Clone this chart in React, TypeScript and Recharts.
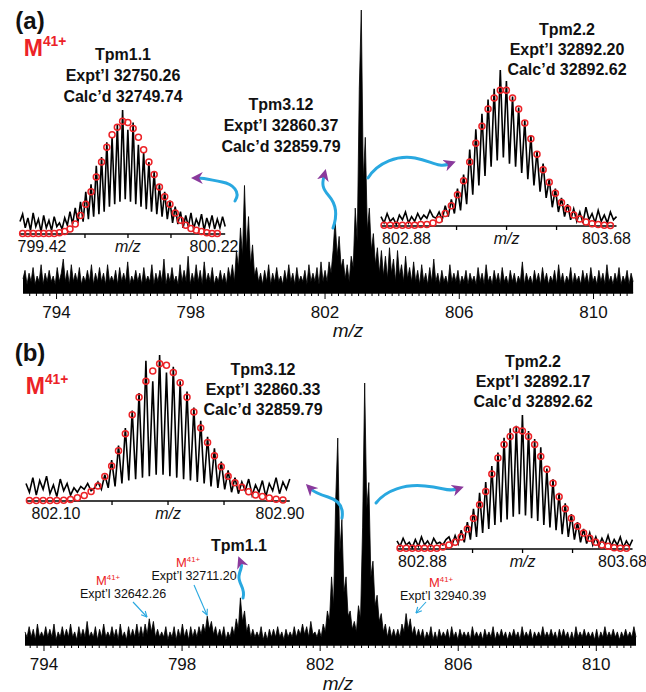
import React from "react";
import { Area, AreaChart, ComposedChart, Line, Scatter, XAxis, YAxis } from "recharts";

const FONT = '"Liberation Sans", Arial, Helvetica, sans-serif';
const BLUE = "#29A8E0";
const PURPLE = "#8A3A9C";
const RED = "#EC2227";

// isotope spacing of a 41+ ion
const ISO_STEP = 1.00335 / 41;

const majorTicks = [794, 798, 802, 806, 810];
const minorTicks: number[] = [];
for (let k = 3966; k <= 4056; k++) minorTicks.push(k / 5);

// (a) full scan, one value every 0.06 m/z
const scanAStart = 793.0;
const scanAStep = 0.06;
const scanA = [
  5, 8, 3, 7, 4, 9, 3, 6, 4, 10, 3, 7, 4, 8, 4, 6, 3, 9, 4, 7,
  12, 4, 8, 3, 10, 4, 7, 4, 9, 3, 6, 4, 8, 4, 10, 3, 7, 4, 9, 4,
  7, 3, 10, 4, 6, 4, 8, 3, 9, 4, 7, 4, 11, 3, 6, 4, 8, 4, 7, 3,
  9, 4, 6, 4, 10, 3, 7, 4, 8, 4, 12, 3, 7, 4, 9, 4, 6, 3, 10, 4,
  8, 4, 13, 3, 7, 4, 10, 4, 8, 3, 11, 4, 7, 4, 9, 3, 6, 4, 8, 4,
  7, 3, 9, 5, 10, 4, 15, 9, 23, 13, 38, 15, 27, 10, 17, 6, 9, 4, 7, 3,
  8, 4, 10, 3, 7, 4, 9, 4, 6, 3, 8, 4, 10, 4, 7, 3, 9, 4, 6, 4,
  8, 3, 10, 4, 7, 4, 9, 3, 11, 4, 8, 4, 11, 7, 15, 26, 13, 20, 9, 12,
  5, 10, 4, 13, 9, 30, 18, 72, 100, 40, 55, 22, 30, 15, 21, 10, 16, 7, 15, 6,
  13, 5, 16, 7, 12, 4, 15, 6, 10, 4, 13, 5, 9, 4, 11, 4, 8, 3, 10, 4,
  7, 3, 9, 4, 12, 4, 7, 3, 8, 4, 6, 3, 10, 4, 7, 4, 8, 3, 6, 4,
  8, 3, 7, 4, 6, 3, 9, 4, 7, 3, 10, 4, 6, 3, 8, 4, 7, 3, 9, 4,
  6, 3, 8, 4, 7, 3, 6, 4, 11, 3, 7, 4, 6, 3, 8, 4, 7, 3, 9, 4,
  7, 3, 6, 4, 8, 3, 10, 4, 7, 3, 6, 4, 9, 3, 7, 4, 6, 3, 8, 4,
  7, 3, 9, 4, 6, 3, 8, 4, 7, 3, 10, 4, 6, 3, 7, 4, 9, 3, 6, 4,
  8, 3, 7, 4,
];

// (b) full scan
const scanBStart = 793.45;
const scanBStep = 0.06;
const scanB = [
  5, 3, 7, 3, 6, 2, 8, 3, 5, 3, 7, 3, 6, 3, 8, 2, 5, 3, 7, 3,
  6, 3, 8, 3, 5, 2, 7, 3, 6, 3, 9, 3, 5, 3, 7, 2, 6, 3, 8, 3,
  5, 3, 7, 3, 6, 2, 8, 3, 5, 2, 7, 3, 6, 3, 8, 3, 7, 3, 8, 4,
  10, 5, 9, 3, 6, 3, 5, 3, 7, 2, 5, 3, 7, 2, 6, 3, 8, 3, 6, 2,
  7, 3, 6, 3, 7, 4, 8, 5, 11, 6, 9, 4, 7, 3, 6, 3, 7, 2, 5, 3,
  7, 4, 10, 6, 18, 9, 13, 5, 8, 3, 6, 3, 5, 3, 7, 2, 5, 2, 6, 3,
  6, 3, 7, 3, 5, 2, 6, 3, 5, 3, 7, 3, 6, 4, 8, 4, 7, 3, 9, 4,
  5, 3, 6, 3, 8, 5, 13, 9, 26, 15, 55, 79, 35, 48, 20, 26, 11, 13, 6, 9,
  5, 15, 10, 45, 100, 52, 62, 26, 32, 15, 19, 9, 12, 5, 8, 3, 7, 3, 6, 3,
  6, 3, 8, 5, 12, 6, 10, 4, 7, 3, 6, 3, 6, 2, 5, 3, 7, 2, 5, 2,
  6, 3, 5, 3, 6, 2, 7, 3, 5, 2, 6, 3, 5, 3, 5, 2, 7, 3, 5, 3,
  5, 2, 6, 3, 5, 3, 7, 2, 5, 3, 6, 3, 5, 2, 5, 3, 6, 3, 5, 2,
  7, 3, 5, 3, 6, 2, 5, 3, 5, 3, 7, 3, 5, 3, 6, 3, 5, 2, 6, 3,
  6, 3, 5, 2, 5, 2, 7, 3, 5, 3, 6, 3, 5, 3, 5, 2, 6, 2, 5, 3,
  7, 3, 5, 3, 6, 3, 5, 2, 5, 3, 6, 3, 5, 3, 7, 3,
];

// insets: experimental profile sampled at half isotope spacing, calculated isotopes
const tpm11Ticks = [799.42, 799.62, 799.82, 800.02, 800.22];
const tpm11CalcStart = 799.33;
const tpm11Calc = [0.5, 0.5, 0.5, 0.5, 0.5, 0.5, 0.5, 1, 2, 4, 8, 15, 24, 34, 46, 58, 70, 80, 86, 91, 90, 85, 78, 68, 58, 48, 38, 30, 24, 17, 11, 7, 4.5, 3, 2, 1, 0.5, 0.5];
const tpm11Expt = [
  10, 16, 5, 13, 3, 17, 6, 12, 2, 15, 5, 11, 3, 14, 6, 9, 4, 13, 7, 18,
  8, 21, 9, 26, 10, 34, 12, 40, 14, 55, 16, 62, 18, 74, 22, 78, 24, 88, 26, 100,
  28, 84, 26, 90, 24, 72, 22, 66, 20, 58, 18, 50, 16, 40, 14, 34, 12, 27, 9, 22,
  8, 18, 5, 15, 6, 17, 4, 12, 7, 16, 3, 13, 6, 15, 4, 12, 5, 14, 6,
];

const tpm22ATicks = [802.88, 803.08, 803.28, 803.48, 803.68];
const tpm22ACalcStart = 802.79;
const tpm22ACalc = [0.5, 0.5, 0.5, 0.5, 0.5, 0.5, 1, 1, 2, 4, 8, 13, 20, 29, 41, 53, 64, 75, 82, 87, 87, 82, 75, 66, 56, 46, 36, 28, 21, 15, 11, 7, 4.5, 2.5, 1.5, 1, 0.5, 0.3];
const tpm22AExpt = [
  6, 2, 8, 3, 5, 1, 7, 4, 9, 2, 6, 3, 8, 4, 7, 5, 10, 6,
  5, 9, 4, 13, 6, 17, 8, 24, 10, 33, 14, 49, 20, 62, 26, 72, 32, 81, 38, 88,
  42, 100, 44, 93, 40, 83, 38, 76, 34, 68, 30, 58, 26, 48, 22, 40, 18, 30, 12, 24,
  9, 18, 6, 14, 4, 11, 3, 9, 2, 12, 4, 8, 2, 10, 3, 7, 2, 9, 4, 6,
];

const tpm312BTicks = [802.1, 802.3, 802.5, 802.7, 802.9];
const tpm312BCalcStart = 802.005;
const tpm312BCalc = [0.3, 0.3, 0.3, 0.3, 0.4, 0.5, 1.1, 2.3, 3.7, 6.5, 10.3, 16.7, 24, 34.5, 46, 59, 71, 82, 89, 94, 93, 88, 81, 71, 61, 50, 40, 31, 23.5, 17, 12.5, 9.4, 6.4, 4.1, 3, 2, 1.2, 0.6];
const tpm312BExpt = [
  12, 6, 16, 4, 14, 8, 17, 5, 11, 3, 15, 7, 12, 4, 9, 6, 10, 8, 12, 7, 9, 13,
  8, 18, 9, 28, 10, 38, 12, 50, 14, 62, 15, 74, 16, 96, 17, 82, 18, 100, 18, 88,
  17, 92, 16, 82, 15, 75, 14, 64, 13, 55, 12, 44, 10, 36, 9, 27, 8, 21, 6, 16,
  5, 13, 7, 15, 4, 11, 6, 14, 3, 12, 7, 16, 5, 13, 8, 15,
];

const tpm22BTicks = [802.88, 803.08, 803.28, 803.48, 803.68];
const tpm22BCalcStart = 802.79;
const tpm22BCalc = [0.5, 0.5, 0.5, 0.5, 0.5, 0.5, 0.5, 1.5, 3, 5, 9, 15, 23, 33, 43, 56, 68, 78, 84, 89, 88, 84, 78, 69, 59.5, 49, 39, 30, 23, 17, 12, 8, 5, 3, 2, 1, 0.5, 0.5];
const tpm22BExpt = [
  6, 2, 8, 3, 5, 1, 7, 2, 9, 3, 6, 2, 8, 4, 5, 3, 7, 9,
  3, 10, 4, 14, 5, 20, 7, 30, 9, 42, 12, 50, 15, 62, 18, 72, 20, 83, 22, 90,
  24, 92, 26, 100, 25, 88, 23, 82, 21, 76, 18, 60, 16, 52, 14, 42, 11, 34, 9, 26,
  7, 20, 5, 15, 4, 12, 3, 9, 2, 8, 3, 10, 2, 7, 3, 9, 1, 6, 2, 7,
];

const mainTick = (props: any) => {
  const { x, y, payload } = props;
  const v = payload.value as number;
  const major = majorTicks.some((m) => Math.abs(m - v) < 1e-6);
  return (
    <g>
      <line x1={x} x2={x} y1={y} y2={y + (major ? 6 : 3)} stroke="#000" strokeWidth={1} />
      {major ? (
        <text x={x} y={y + 19} textAnchor="middle" dominantBaseline="central" fontSize={17} fontFamily={FONT} fill="#111">
          {v}
        </text>
      ) : null}
    </g>
  );
};

const insetTick = (props: any) => {
  const { x, y, payload } = props;
  const index = props.index ?? payload.index;
  const v = payload.value as number;
  if (index === 0 || index === 4) {
    return (
      <text x={x} y={y + 13} textAnchor="middle" dominantBaseline="central" fontSize={16} fontFamily={FONT} fill="#111">
        {v.toFixed(2)}
      </text>
    );
  }
  return (
    <g>
      <line x1={x} x2={x} y1={y} y2={y + 4} stroke="#000" strokeWidth={1.3} />
      {index === 2 ? (
        <text x={x} y={y + 13} textAnchor="middle" dominantBaseline="central" fontSize={16} fontStyle="italic" fontFamily={FONT} fill="#111">
          m/z
        </text>
      ) : null}
    </g>
  );
};

const openCircle = (p: any) => <circle cx={p.cx} cy={p.cy} r={3} fill="none" stroke={RED} strokeWidth={1.5} />;

type ScanProps = { left: number; top: number; base: number; ppu: number; start: number; step: number; values: number[] };

function FullScan({ left, top, base, ppu, start, step, values }: ScanProps) {
  const data = values.map((y, i) => ({ mz: start + i * step, y }));
  const lo = start;
  const hi = start + (values.length - 1) * step;
  const w = (hi - lo) * ppu;
  const ticks = minorTicks.filter((t) => t >= lo && t <= hi);
  return (
    <div style={{ position: "absolute", left: 0, top: top - 2 }}>
      <AreaChart width={646} height={base - top + 2 + 30} data={data} margin={{ top: 2, left, right: 646 - left - w, bottom: 0 }}>
        <XAxis
          type="number"
          dataKey="mz"
          domain={[lo, hi]}
          ticks={ticks}
          interval={0}
          height={30}
          tickSize={0}
          tickMargin={0}
          tickLine={false}
          axisLine={{ stroke: "#000", strokeWidth: 1.3 }}
          tick={mainTick}
        />
        <YAxis type="number" dataKey="y" domain={[0, 100]} hide />
        <Area dataKey="y" type="linear" stroke="#000" strokeWidth={0.8} fill="#000" fillOpacity={1} dot={false} isAnimationActive={false} />
      </AreaChart>
    </div>
  );
}

type InsetProps = { left: number; top: number; base: number; ppu: number; ticks: number[]; calcStart: number; calc: number[]; expt: number[] };

function Inset({ left, top, base, ppu, ticks, calcStart, calc, expt }: InsetProps) {
  const half = ISO_STEP / 2;
  const x0 = calcStart - half;
  const x1 = x0 + (expt.length - 1) * half;
  const line = expt.map((y, i) => ({ mz: x0 + i * half, y }));
  const dots = calc.map((y, i) => ({ mz: calcStart + i * ISO_STEP, y }));
  const w = (x1 - x0) * ppu;
  const h = base - top;
  const padX = 30;
  const padY = 6;
  return (
    <div style={{ position: "absolute", left: left - padX, top: top - padY }}>
      <ComposedChart width={w + padX * 2} height={h + padY + 26} margin={{ top: padY, right: padX, bottom: 0, left: padX }}>
        <XAxis
          type="number"
          dataKey="mz"
          domain={[x0, x1]}
          ticks={ticks}
          interval={0}
          height={26}
          tickSize={0}
          tickMargin={0}
          tickLine={false}
          axisLine={{ stroke: "#000", strokeWidth: 1.6 }}
          tick={insetTick}
        />
        <YAxis type="number" dataKey="y" domain={[0, 100]} hide />
        <Line data={line} dataKey="y" type="linear" stroke="#000" strokeWidth={1.6} dot={false} isAnimationActive={false} />
        <Scatter data={dots} shape={openCircle} isAnimationActive={false} />
      </ComposedChart>
    </div>
  );
}

type LabelProps = { x: number; y: number; size?: number; bold?: boolean; italic?: boolean; color?: string; children: React.ReactNode };

const Label = ({ x, y, size = 16, bold = true, italic = false, color = "#111", children }: LabelProps) => (
  <div
    style={{
      position: "absolute",
      left: x,
      top: y,
      transform: "translate(-50%, -50%)",
      fontFamily: FONT,
      fontSize: size,
      fontWeight: bold ? 700 : 400,
      fontStyle: italic ? "italic" : "normal",
      color,
      whiteSpace: "nowrap",
      lineHeight: 1,
    }}
  >
    {children}
  </div>
);

const Charge = ({ x, y, size, bold = true }: { x: number; y: number; size: number; bold?: boolean }) => (
  <Label x={x} y={y} size={size} bold={bold} color={RED}>
    M<span style={{ fontSize: size * 0.6, position: "relative", top: -size * 0.42 }}>41+</span>
  </Label>
);

const Block = ({ x, y, gap, lines }: { x: number; y: number; gap: number; lines: string[] }) => (
  <>
    {lines.map((t, i) => (
      <Label key={t} x={x} y={y + i * gap}>
        {t}
      </Label>
    ))}
  </>
);

export default function App() {
  return (
    <div style={{ position: "absolute", left: 0, top: 0, width: 646, height: 692, background: "#fff", overflow: "hidden" }}>
      <FullScan left={23} top={10} base={293} ppu={33.56} start={scanAStart} step={scanAStep} values={scanA} />
      <FullScan left={25} top={383} base={645} ppu={34.52} start={scanBStart} step={scanBStep} values={scanB} />

      <Inset left={20} top={110} base={234} ppu={215} ticks={tpm11Ticks} calcStart={tpm11CalcStart} calc={tpm11Calc} expt={tpm11Expt} />
      <Inset left={381} top={70} base={226} ppu={250} ticks={tpm22ATicks} calcStart={tpm22ACalcStart} calc={tpm22ACalc} expt={tpm22AExpt} />
      <Inset left={26} top={355} base={501} ppu={280} ticks={tpm312BTicks} calcStart={tpm312BCalcStart} calc={tpm312BCalc} expt={tpm312BExpt} />
      <Inset left={397} top={415} base={549} ppu={250} ticks={tpm22BTicks} calcStart={tpm22BCalcStart} calc={tpm22BCalc} expt={tpm22BExpt} />

      <svg width={646} height={692} style={{ position: "absolute", left: 0, top: 0, pointerEvents: "none" }}>
        <defs>
          <marker id="headP" viewBox="0 0 10 10" refX="4" refY="5" markerWidth="12" markerHeight="12" markerUnits="userSpaceOnUse" orient="auto">
            <path d="M0,0 L10,5 L0,10 L3,5 Z" fill={PURPLE} />
          </marker>
          <marker id="headV" viewBox="0 0 10 10" refX="9" refY="5" markerWidth="7" markerHeight="7" markerUnits="userSpaceOnUse" orient="auto">
            <path d="M1,1 L9,5 L1,9" fill="none" stroke={BLUE} strokeWidth={1.6} />
          </marker>
        </defs>
        <g fill="none" stroke={BLUE} strokeWidth={3} strokeLinecap="round">
          <path d="M235,201 C241,192 233,184 222,182 S205,178 198,178" markerEnd="url(#headP)" />
          <path d="M333,228 C338,214 336,204 329,196 S322,184 324,176" markerEnd="url(#headP)" />
          <path d="M368,178 C378,162 398,155 415,158 S438,168 449,164" markerEnd="url(#headP)" />
          <path d="M342,518 C344,506 338,500 328,497 S314,492 311,489" markerEnd="url(#headP)" />
          <path d="M376,503 C386,490 405,484 425,486 S448,492 457,489" markerEnd="url(#headP)" />
          <path d="M243,598 C246,588 238,584 239,576 S243,568 241,563" markerEnd="url(#headP)" />
        </g>
        <g fill="none" stroke={BLUE} strokeWidth={1.1}>
          <line x1={133} y1={602} x2={147} y2={617} markerEnd="url(#headV)" />
          <line x1={194} y1={585} x2={207} y2={615} markerEnd="url(#headV)" />
          <line x1={426} y1={602} x2={416} y2={613} markerEnd="url(#headV)" />
        </g>
      </svg>

      <Label x={30} y={21} size={24}>(a)</Label>
      <Charge x={45} y={48} size={23} />
      <Block x={123} y={55} gap={21} lines={["Tpm1.1", "Expt\u2019l 32750.26", "Calc\u2019d 32749.74"]} />
      <Block x={281} y={105} gap={21} lines={["Tpm3.12", "Expt\u2019l 32860.37", "Calc\u2019d 32859.79"]} />
      <Block x={567} y={30} gap={20} lines={["Tpm2.2", "Expt\u2019l 32892.20", "Calc\u2019d 32892.62"]} />
      <Label x={348} y={330} size={19} bold={false} italic>m/z</Label>

      <Label x={30} y={353} size={24}>(b)</Label>
      <Charge x={47} y={386} size={23} />
      <Block x={263} y={370} gap={20} lines={["Tpm3.12", "Expt\u2019l 32860.33", "Calc\u2019d 32859.79"]} />
      <Block x={533} y={362} gap={20} lines={["Tpm2.2", "Expt\u2019l 32892.17", "Calc\u2019d 32892.62"]} />
      <Label x={239} y={546}>Tpm1.1</Label>
      <Charge x={108} y={580} size={13} bold={false} />
      <Label x={123} y={594} size={12.5} bold={false}>Expt&#8217;l 32642.26</Label>
      <Charge x={188} y={562} size={13} bold={false} />
      <Label x={194} y={576} size={12.5} bold={false}>Expt&#8217;l 32711.20</Label>
      <Charge x={441} y={582} size={13} bold={false} />
      <Label x={443} y={596} size={12.5} bold={false}>Expt&#8217;l 32940.39</Label>
      <Label x={338} y={683} size={19} bold={false} italic>m/z</Label>
    </div>
  );
}
